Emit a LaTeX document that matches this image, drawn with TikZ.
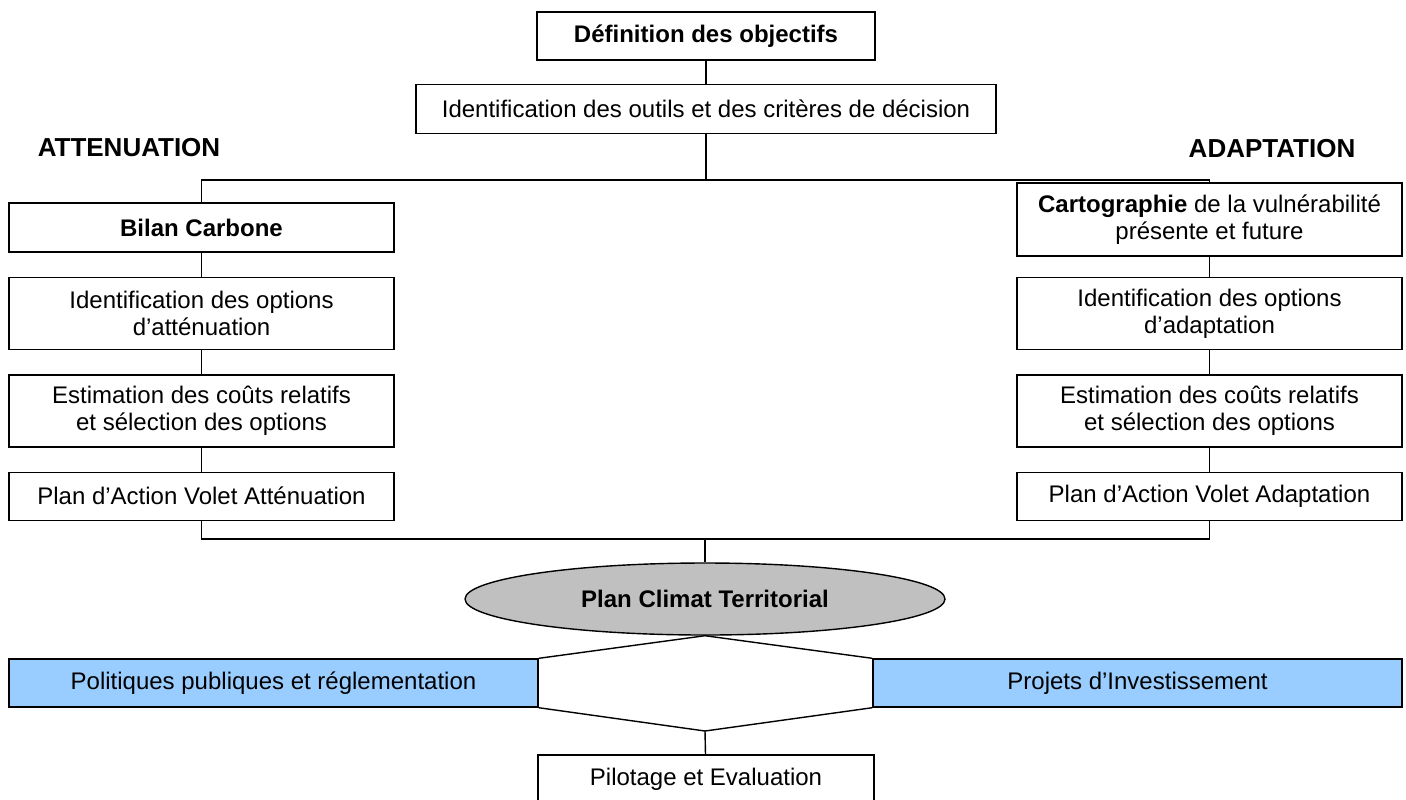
\documentclass[tikz,border=0pt]{standalone}
\usepackage{fontspec}
\setmainfont{Liberation Sans}
\usetikzlibrary{positioning, shapes.geometric}
\definecolor{ptcgray}{RGB}{192,192,192}
\definecolor{actblue}{RGB}{153,204,255}

\begin{document}
\begin{tikzpicture}[
    x=0.5pt, y=-0.5pt,
    every path/.style={line width=0.7pt},
    stepbox/.style={draw, fill=white, align=center, inner sep=2pt, minimum width=192.5pt, font=\fontsize{12}{13.5}\selectfont},
    headbox/.style={stepbox, font=\fontsize{12}{13.5}\selectfont\bfseries},
    sidelabel/.style={font=\fontsize{13}{15}\selectfont\bfseries},
    actbox/.style={draw, fill=actblue, minimum width=264.5pt, minimum height=24pt, font=\fontsize{12}{13.5}\selectfont},
    link/.style={draw}
]
\useasboundingbox (0,0) rectangle (1406,799);

% Top of the chart
\node[headbox, minimum width=169pt, minimum height=24pt] (def) at (706,36) {Définition des objectifs};
\node[stepbox, minimum width=290pt, minimum height=24.5pt, below=11.5pt of def] (outils) {Identification des outils et des critères de décision};

\node[sidelabel] (attn) at (129,148) {ATTENUATION};
\node[sidelabel] (adapt) at (1272,149) {ADAPTATION};

% Attenuation branch
\node[headbox, minimum height=24.5pt] (bilan) at (201.5,227.5) {Bilan Carbone};
\node[stepbox, minimum height=36pt, below=12pt of bilan] (optL) {Identification des options\\d’atténuation};
\node[stepbox, minimum height=36pt, below=12pt of optL] (costL) {Estimation des coûts relatifs\\et sélection des options};
\node[stepbox, minimum height=24pt, below=12pt of costL] (planL) {Plan d’Action Volet Atténuation};

% Adaptation branch
\node[stepbox, minimum height=36.5pt] (carto) at (1209.5,219.5) {\textbf{Cartographie} de la vulnérabilité\\présente et future};
\node[stepbox, minimum height=36pt, below=10pt of carto] (optR) {Identification des options\\d’adaptation};
\node[stepbox, minimum height=36pt, below=12pt of optR] (costR) {Estimation des coûts relatifs\\et sélection des options};
\node[stepbox, minimum height=24pt, below=12pt of costR] (planR) {Plan d’Action Volet Adaptation};

% Plan climat and its two outputs
\node[ellipse, draw, fill=ptcgray, minimum width=240pt, minimum height=36pt, font=\fontsize{12}{13.5}\selectfont\bfseries] (ptc) at (705,599) {Plan Climat Territorial};
\node[actbox] (polit) at (273.5,683) {Politiques publiques et réglementation};
\node[actbox] (invest) at (1137.5,683) {Projets d’Investissement};
\node[stepbox, minimum width=168pt, minimum height=24pt] (pilot) at (706,779) {Pilotage et Evaluation};

\coordinate (topbus) at (706,180);
\coordinate (botbus) at (705,539);
\coordinate (hexbot) at (705,731);

% Connections
\draw[link] (def) -- (outils);
\draw[link] (outils) -- (topbus);
\draw[link] (bilan.north) |- (topbus) -| (carto.north);
\draw[link] (bilan) -- (optL);
\draw[link] (optL) -- (costL);
\draw[link] (costL) -- (planL);
\draw[link] (carto) -- (optR);
\draw[link] (optR) -- (costR);
\draw[link] (costR) -- (planR);
\draw[link] (planL.south) |- (botbus) -| (planR.south);
\draw[link] (botbus) -- (ptc);
\draw[link] (polit.north east) -- (ptc.south) -- (invest.north west);
\draw[link] (polit.south east) -- (hexbot) -- (invest.south west);
\draw[link] (hexbot) -- (pilot);
\end{tikzpicture}
\end{document}
